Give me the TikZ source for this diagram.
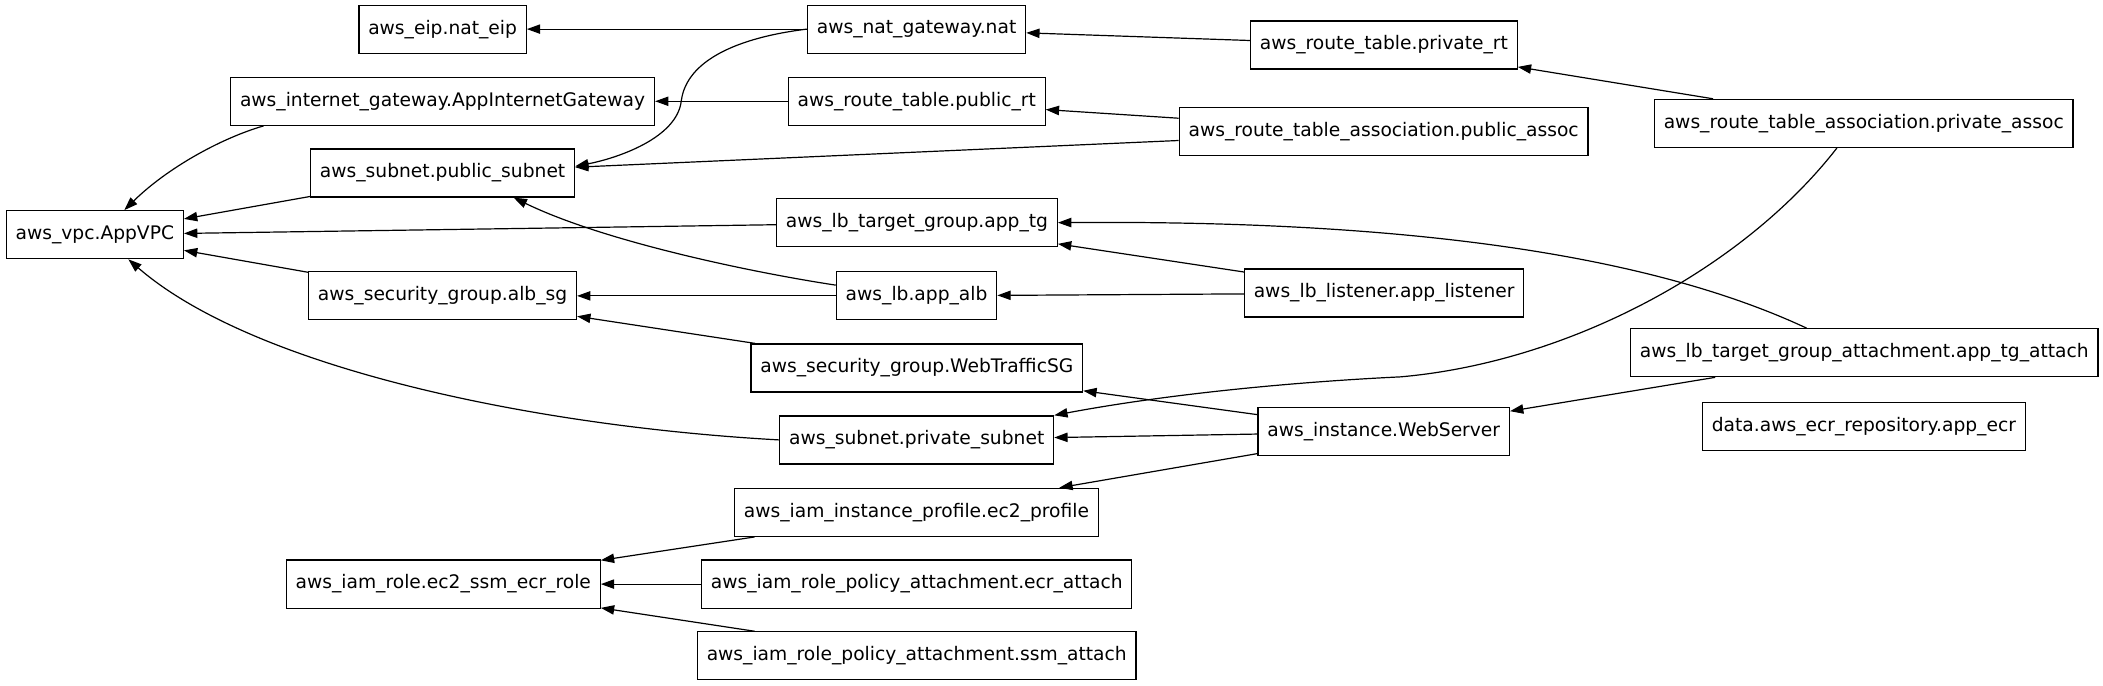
\documentclass[tikz,border=0pt]{standalone}
\usepackage{fontspec}
\setmainfont{DejaVu Sans}
\usepackage{tikz}
\usetikzlibrary{arrows.meta,calc}
\tikzset{
  tfnode/.style={
    draw, rectangle, line width=0.9pt, minimum height=36pt,
    inner xsep=7pt, inner ysep=0pt, font=\fontsize{14}{16}\selectfont
  },
  dep/.style={-{Triangle[length=10pt,width=7pt]}, line width=0.9pt}
}

\begin{document}
\begin{tikzpicture}[x=1.0057pt, y=-1.0057pt]
  \useasboundingbox (0,0) rectangle (1568,511);
  % resources, by column
  \node[tfnode] (vpc) at (70.7,175) {aws\_vpc.AppVPC};
  \node[tfnode] (eip) at (330,21.7) {aws\_eip.nat\_eip};
  \node[tfnode] (igw) at (330,75.5) {aws\_internet\_gateway.AppInternetGateway};
  \node[tfnode] (public_subnet) at (330,129) {aws\_subnet.public\_subnet};
  \node[tfnode] (alb_sg) at (330,220.6) {aws\_security\_group.alb\_sg};
  \node[tfnode] (iam_role) at (330.5,435.5) {aws\_iam\_role.ec2\_ssm\_ecr\_role};
  \node[tfnode] (nat) at (683.4,21.7) {aws\_nat\_gateway.nat};
  \node[tfnode] (public_rt) at (683.5,75.5) {aws\_route\_table.public\_rt};
  \node[tfnode] (app_tg) at (683.7,166) {aws\_lb\_target\_group.app\_tg};
  \node[tfnode] (alb) at (683.4,220.6) {aws\_lb.app\_alb};
  \node[tfnode] (webtraffic_sg) at (683.6,274.4) {aws\_security\_group.WebTrafficSG};
  \node[tfnode] (private_subnet) at (683.5,328) {aws\_subnet.private\_subnet};
  \node[tfnode] (ec2_profile) at (683.3,382) {aws\_iam\_instance\_profile.ec2\_profile};
  \node[tfnode] (ecr_attach) at (683.5,435.5) {aws\_iam\_role\_policy\_attachment.ecr\_attach};
  \node[tfnode] (ssm_attach) at (683.5,489) {aws\_iam\_role\_policy\_attachment.ssm\_attach};
  \node[tfnode] (private_rt) at (1031.8,33.6) {aws\_route\_table.private\_rt};
  \node[tfnode] (public_assoc) at (1031.6,98) {aws\_route\_table\_association.public\_assoc};
  \node[tfnode] (listener) at (1032,218.5) {aws\_lb\_listener.app\_listener};
  \node[tfnode] (webserver) at (1031.7,322) {aws\_instance.WebServer};
  \node[tfnode] (private_assoc) at (1389.6,92) {aws\_route\_table\_association.private\_assoc};
  \node[tfnode] (tg_attach) at (1390,263) {aws\_lb\_target\_group\_attachment.app\_tg\_attach};
  \node[tfnode] (ecr) at (1389.7,318) {data.aws\_ecr\_repository.app\_ecr};

  % dependencies
  \draw[dep] (nat) -- (eip);
  \draw[dep] (private_rt) -- (nat);
  \draw[dep] (public_rt) -- (igw);
  \draw[dep] (public_assoc) -- (public_rt);
  \draw[dep] (public_assoc) -- (public_subnet);
  \draw[dep] (private_assoc) -- (private_rt);
  \draw[dep] (public_subnet) -- (vpc);
  \draw[dep] (app_tg) -- (vpc);
  \draw[dep] (alb_sg) -- (vpc);
  \draw[dep] (alb) -- (alb_sg);
  \draw[dep] (listener) -- (alb);
  \draw[dep] (listener) -- (app_tg);
  \draw[dep] (webtraffic_sg) -- (alb_sg);
  \draw[dep] (tg_attach) -- (webserver);
  \draw[dep] (webserver) -- (webtraffic_sg);
  \draw[dep] (webserver) -- (private_subnet);
  \draw[dep] (webserver) -- (ec2_profile);
  \draw[dep] (ec2_profile) -- (iam_role);
  \draw[dep] (ecr_attach) -- (iam_role);
  \draw[dep] (ssm_attach) -- (iam_role);
  \draw[dep] (nat.west) .. controls (550,28) and (512,45) .. (508,75)
    .. controls (505,103) and (460,118) .. ($(public_subnet.east)+(0,-5)$);
  \draw[dep] ($(igw.south west)+(25,0)$) .. controls (165,103) and (125,125) .. ($(vpc.north)+(22,0)$);
  \draw[dep] ($(alb.west)+(0,-8)$) .. controls (560,203) and (450,180) .. ($(public_subnet.south)+(53,0)$);
  \draw[dep] ($(private_assoc.south)+(-20,0)$) .. controls (1300,200) and (1170,270) .. (1044,281)
    .. controls (980,284) and (880,292) .. (private_subnet.north east);
  \draw[dep] ($(tg_attach.north)+(-43,0)$) .. controls (1230,190) and (1050,164) .. (app_tg.east);
  \draw[dep] (private_subnet.west) .. controls (400,318) and (190,275) .. ($(vpc.south)+(25,0)$);
\end{tikzpicture}
\end{document}
